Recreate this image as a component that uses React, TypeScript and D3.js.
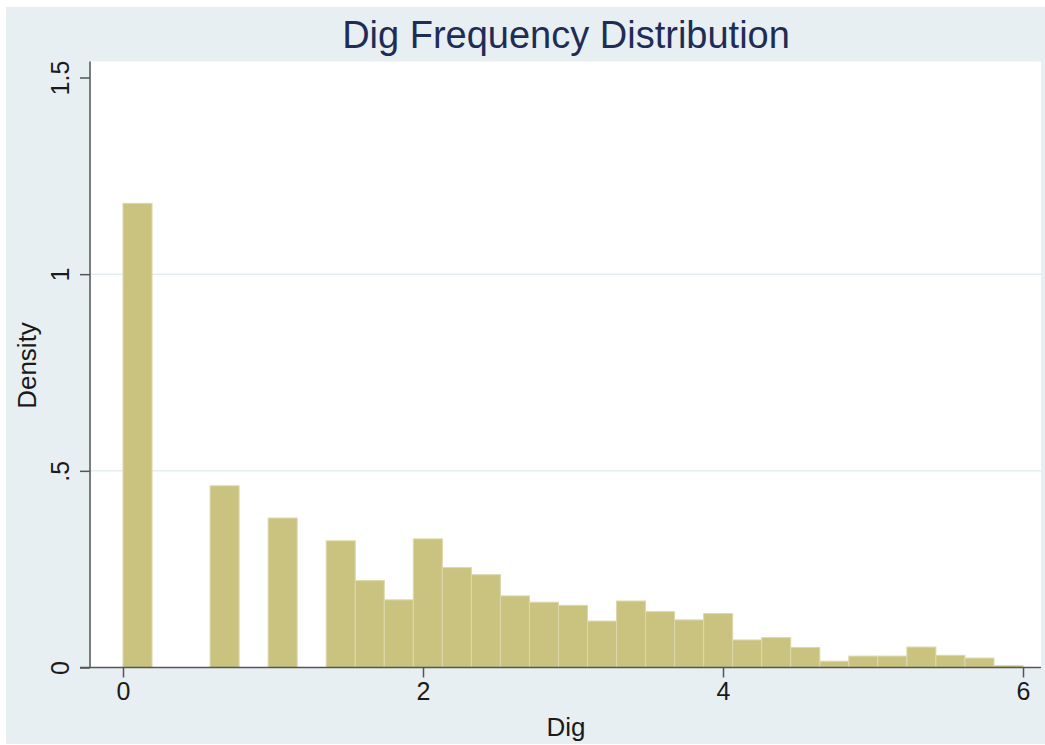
import React, { useEffect, useRef } from "react";
import * as d3 from "d3";

// histogram of Dig: 31 bins from 0 to 6, density per bin
const binLow = 0;
const binHigh = 6;
const densities = [
  1.18, 0, 0, 0.462, 0, 0.38, 0, 0.322, 0.221, 0.172, 0.327, 0.254, 0.236,
  0.182, 0.166, 0.158, 0.118, 0.169, 0.142, 0.121, 0.137, 0.07, 0.076, 0.051,
  0.016, 0.029, 0.029, 0.052, 0.031, 0.024, 0.005,
];
const xTicks = [0, 2, 4, 6];
const xTickLabels = ["0", "2", "4", "6"];
const yTicks = [0, 0.5, 1, 1.5];
const yTickLabels = ["0", ".5", "1", "1.5"];
const gridValues = [0.5, 1];

const title = "Dig Frequency Distribution";
const xTitle = "Dig";
const yTitle = "Density";

const App = () => {
  const svgRef = useRef<SVGSVGElement>(null);

  useEffect(() => {
    const svg = d3.select(svgRef.current);
    svg.selectAll("*").remove();

    const width = 1045;
    const height = 745;
    const font = "'Liberation Sans', Arial, Helvetica, sans-serif";
    const axisColor = "#555";
    const plot = { left: 91, right: 1041, top: 61.5, bottom: 667.5 };

    const xScale = d3.scaleLinear().domain([0, 6]).range([123, 1023]);
    const yScale = d3.scaleLinear().domain([0, 1.5]).range([667.5, 77.5]);

    // outer background
    svg
      .append("rect")
      .attr("x", 6)
      .attr("y", 7)
      .attr("width", width - 6)
      .attr("height", height - 8)
      .attr("fill", "#e8eff2");

    // plot region
    svg
      .append("rect")
      .attr("x", plot.left)
      .attr("y", plot.top)
      .attr("width", plot.right - plot.left)
      .attr("height", plot.bottom - plot.top)
      .attr("fill", "#ffffff");

    // grid lines
    svg
      .append("g")
      .selectAll("line")
      .data(gridValues)
      .join("line")
      .attr("x1", plot.left)
      .attr("x2", plot.right)
      .attr("y1", (d) => yScale(d))
      .attr("y2", (d) => yScale(d))
      .attr("stroke", "#e4edf0")
      .attr("stroke-width", 1.5);

    // bars
    const binWidth = (binHigh - binLow) / densities.length;
    svg
      .append("g")
      .selectAll("rect")
      .data(densities.map((d, i) => ({ x0: binLow + i * binWidth, x1: binLow + (i + 1) * binWidth, d })))
      .join("rect")
      .filter((b) => b.d > 0)
      .attr("x", (b) => xScale(b.x0))
      .attr("width", (b) => xScale(b.x1) - xScale(b.x0))
      .attr("y", (b) => yScale(b.d))
      .attr("height", (b) => yScale(0) - yScale(b.d))
      .attr("fill", "#c9c37f")
      .attr("stroke", "#dcd8ab")
      .attr("stroke-width", 1);

    // x axis
    const xAxis = svg
      .append("g")
      .attr("transform", `translate(0, ${plot.bottom})`)
      .call(
        d3
          .axisBottom(xScale)
          .tickValues(xTicks)
          .tickSize(10)
          .tickPadding(5)
          .tickFormat((_, i) => xTickLabels[i])
      );
    xAxis.select(".domain").remove();
    xAxis.selectAll(".tick line").attr("stroke", axisColor).attr("stroke-width", 1.5);
    xAxis
      .selectAll(".tick text")
      .attr("font-family", font)
      .attr("font-size", 25)
      .attr("fill", "#1a1a1a");
    svg
      .append("line")
      .attr("x1", 80)
      .attr("x2", plot.right)
      .attr("y1", plot.bottom)
      .attr("y2", plot.bottom)
      .attr("stroke", axisColor)
      .attr("stroke-width", 1.5);

    // y axis
    const yAxis = svg
      .append("g")
      .attr("transform", `translate(${plot.left - 1}, 0)`)
      .call(
        d3
          .axisLeft(yScale)
          .tickValues(yTicks)
          .tickSize(10)
          .tickFormat((_, i) => yTickLabels[i])
      );
    yAxis.select(".domain").remove();
    yAxis.selectAll(".tick line").attr("stroke", axisColor).attr("stroke-width", 1.5);
    yAxis
      .selectAll(".tick text")
      .attr("x", 0)
      .attr("dy", 0)
      .attr("transform", "translate(-21, 0) rotate(-90)")
      .attr("text-anchor", "middle")
      .attr("font-family", font)
      .attr("font-size", 25)
      .attr("fill", "#1a1a1a");
    svg
      .append("line")
      .attr("x1", plot.left - 1)
      .attr("x2", plot.left - 1)
      .attr("y1", plot.top)
      .attr("y2", plot.bottom)
      .attr("stroke", axisColor)
      .attr("stroke-width", 1.5);

    // titles
    svg
      .append("text")
      .attr("x", 566)
      .attr("y", 47.5)
      .attr("text-anchor", "middle")
      .attr("font-family", font)
      .attr("font-size", 38)
      .attr("fill", "#1f2d56")
      .text(title);

    svg
      .append("text")
      .attr("x", 566)
      .attr("y", 736)
      .attr("text-anchor", "middle")
      .attr("font-family", font)
      .attr("font-size", 26)
      .attr("fill", "#1a1a1a")
      .text(xTitle);

    svg
      .append("text")
      .attr("transform", "translate(36, 365.5) rotate(-90)")
      .attr("text-anchor", "middle")
      .attr("font-family", font)
      .attr("font-size", 26)
      .attr("fill", "#1a1a1a")
      .text(yTitle);
  }, []);

  return (
    <svg
      ref={svgRef}
      width={1045}
      height={745}
      style={{ position: "absolute", left: 0, top: 0, background: "#ffffff" }}
    />
  );
};

export default App;
